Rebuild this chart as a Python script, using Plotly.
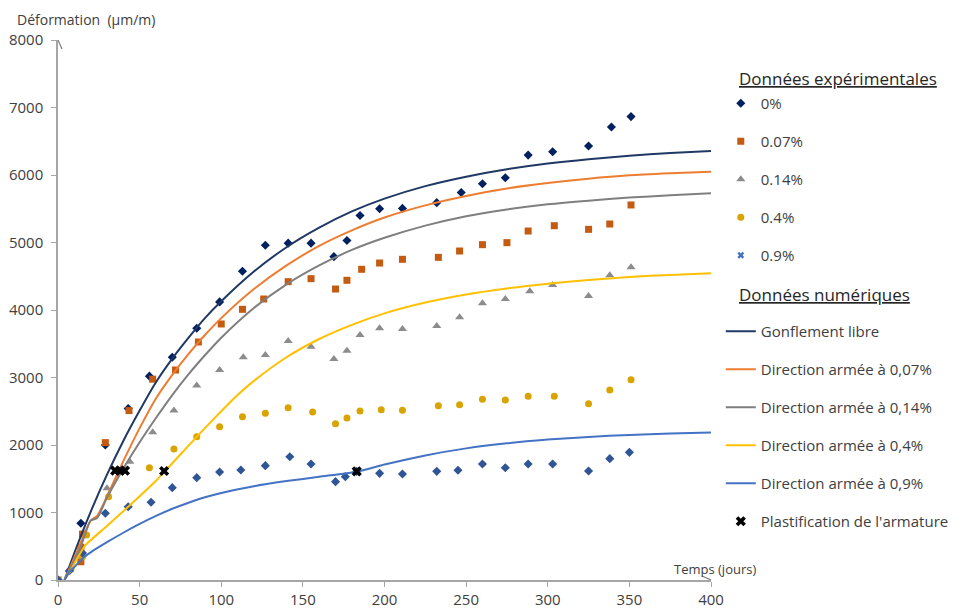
import plotly.graph_objects as go

# ---------------- Experimental data ----------------
x_0 = [0, 14, 29, 43, 56, 70, 85, 99, 113, 127, 141, 155, 169, 177, 185, 197, 211, 232, 247, 260, 274, 288, 303, 325, 339, 351]
y_0 = [0, 840, 2000, 2540, 3020, 3300, 3730, 4120, 4575, 4960, 4990, 4990, 4790, 5030, 5400, 5500, 5505, 5590, 5740, 5870, 5960, 6295, 6345, 6430, 6710, 6865]

x_007 = [0, 14, 14, 15, 29, 43.5, 58, 72, 86, 100, 113, 126, 141, 155, 170, 177, 186, 197, 211, 233, 246, 260, 275, 288, 304, 325, 338, 351]
y_007 = [0, 270, 485, 680, 2035, 2510, 2975, 3111, 3526, 3793, 4010, 4163, 4420, 4464, 4311, 4440, 4603, 4696, 4751, 4780, 4874, 4968, 4998, 5170, 5249, 5195, 5274, 5556]

x_014 = [0, 7, 13, 30, 44, 58, 71, 85, 99, 113.5, 127, 141, 155, 169, 177, 185, 197, 211, 232, 246, 260, 274, 289, 303, 325, 338, 351]
y_014 = [0, 150, 350, 1358, 1753, 2190, 2510, 2880, 3111, 3300, 3333, 3541, 3457, 3274, 3397, 3630, 3728, 3719, 3763, 3891, 4099, 4163, 4277, 4370, 4207, 4514, 4632]

x_04 = [0, 8, 15, 17.5, 31, 56, 71, 85, 99, 113, 127, 141, 156, 170, 177, 185, 198, 211, 233, 246, 260, 274, 288, 304, 325, 338, 351]
y_04 = [0, 163, 346, 667, 1234, 1664, 1941, 2123, 2271, 2420, 2469, 2553, 2489, 2316, 2400, 2504, 2523, 2514, 2583, 2598, 2677, 2667, 2721, 2721, 2612, 2815, 2968]

x_09 = [0, 7, 15, 29, 43, 57, 70, 85, 99, 112, 127, 142, 155, 170, 176, 183, 197, 211, 232, 245, 260, 274, 288, 303, 325, 338, 350]
y_09 = [0, 138, 400, 988, 1086, 1151, 1368, 1516, 1600, 1630, 1694, 1827, 1718, 1457, 1531, 1610, 1580, 1570, 1610, 1625, 1718, 1664, 1718, 1718, 1615, 1798, 1891]

# ---------------- Numerical curves ----------------
x_libre = [4, 10, 20, 30, 40, 50, 60, 70, 80, 90, 100, 120, 140, 160, 180, 200, 225, 250, 275, 300, 325, 350, 375, 400]
y_libre = [0, 400, 1010, 1560, 2060, 2510, 2930, 3280, 3590, 3880, 4130, 4570, 4930, 5220, 5460, 5650, 5835, 5975, 6085, 6170, 6235, 6285, 6325, 6356]

x_n007 = [4, 10, 14, 20, 24, 30, 40, 50, 60, 70, 80, 90, 100, 120, 140, 160, 180, 200, 225, 250, 275, 300, 325, 350, 375, 400]
y_n007 = [0, 330, 560, 880, 950, 1240, 1760, 2250, 2690, 3040, 3350, 3630, 3880, 4310, 4660, 4950, 5180, 5370, 5550, 5690, 5800, 5880, 5945, 5995, 6025, 6050]

x_n014 = [4, 10, 14, 20, 24, 30, 40, 50, 60, 70, 80, 90, 100, 120, 140, 160, 180, 200, 225, 250, 275, 300, 325, 350, 375, 400]
y_n014 = [0, 290, 500, 880, 920, 1220, 1650, 2040, 2400, 2740, 3050, 3330, 3590, 4030, 4380, 4660, 4890, 5070, 5250, 5390, 5490, 5565, 5620, 5665, 5700, 5728]

x_n04 = [4, 8, 12, 17, 20, 30, 40, 50, 60, 65, 70, 80, 90, 100, 110, 120, 140, 160, 180, 200, 225, 250, 275, 300, 325, 350, 375, 400]
y_n04 = [0, 150, 330, 520, 590, 800, 1020, 1240, 1470, 1600, 1730, 1990, 2250, 2500, 2740, 2950, 3300, 3570, 3780, 3950, 4110, 4230, 4320, 4390, 4445, 4490, 4520, 4545]

x_n09 = [4, 7, 10, 15, 20, 30, 40, 50, 60, 70, 80, 90, 100, 120, 140, 160, 183, 200, 225, 250, 275, 300, 325, 350, 375, 400]
y_n09 = [0, 120, 190, 320, 410, 560, 700, 830, 950, 1055, 1145, 1225, 1290, 1390, 1465, 1530, 1605, 1710, 1845, 1950, 2025, 2080, 2120, 2150, 2170, 2185]

x_plast = [35, 38, 41, 65, 183]
y_plast = [1620, 1620, 1620, 1615, 1610]

x_ticks = [0, 50, 100, 150, 200, 250, 300, 350, 400]
y_ticks = [0, 1000, 2000, 3000, 4000, 5000, 6000, 7000, 8000]

FONT = "Open Sans"
TXT = "#404040"

fig = go.Figure()

def exp_trace(x, y, name, symbol, color, size, group, showlegend=True):
    return go.Scatter(x=x, y=y, mode="markers", name=name, legendgroup=group,
                      marker=dict(symbol=symbol, color=color, size=size, line=dict(width=0)),
                      showlegend=showlegend)

fig.add_trace(exp_trace(x_0, y_0, "0%", "diamond", "#002060", 7, "g1"))
fig.add_trace(exp_trace(x_007, y_007, "0.07%", "square", "#C55A11", 7, "g2"))
fig.add_trace(exp_trace(x_014, y_014, "0.14%", "triangle-up", "#8C8C8C", 8, "g3"))
fig.add_trace(exp_trace(x_04, y_04, "0.4%", "circle", "#D9A300", 7, "g4"))
fig.add_trace(exp_trace(x_09, y_09, "0.9%", "diamond", "#2F5597", 7, "g5", showlegend=False))
fig.add_trace(go.Scatter(x=[None], y=[None], mode="markers", name="0.9%", legendgroup="g5",
                         marker=dict(symbol="x", color="#4472C4", size=6, line=dict(width=0))))
# blank legend slot reserved for the "Données numériques" heading
fig.add_trace(go.Scatter(x=[None], y=[None], mode="markers", name=" ", legendgroup="gh",
                         marker=dict(color="rgba(0,0,0,0)", size=1), hoverinfo="skip"))

def num_trace(x, y, name, color, group):
    return go.Scatter(x=x, y=y, mode="lines", name=name, legendgroup=group,
                      line=dict(color=color, width=2, shape="spline", smoothing=0.6))

fig.add_trace(num_trace(x_libre, y_libre, "Gonflement libre", "#1F3864", "g6"))
fig.add_trace(num_trace(x_n007, y_n007, "Direction armée à 0,07%", "#ED7D31", "g7"))
fig.add_trace(num_trace(x_n014, y_n014, "Direction armée à 0,14%", "#7F7F7F", "g8"))
fig.add_trace(num_trace(x_n04, y_n04, "Direction armée à 0,4%", "#FFC000", "g9"))
fig.add_trace(num_trace(x_n09, y_n09, "Direction armée à 0,9%", "#4472C4", "g10"))

fig.add_trace(go.Scatter(x=x_plast, y=y_plast, mode="markers", name="Plastification de l'armature",
                         legendgroup="g11",
                         marker=dict(symbol="x", color="black", size=9, line=dict(width=0))))

axis_common = dict(showgrid=False, zeroline=False, showline=True, linecolor="#A6A6A6", linewidth=1.5,
                   ticks="outside", ticklen=5, tickcolor="#A6A6A6", automargin=False,
                   tickfont=dict(family=FONT, size=15, color=TXT))

fig.update_xaxes(range=[0, 400], tickvals=x_ticks, ticktext=[str(v) for v in x_ticks], **axis_common)
fig.update_yaxes(range=[0, 8000], tickvals=y_ticks, ticktext=[str(v) for v in y_ticks],
                 ticklabelstandoff=5, **axis_common)

# arrowheads on axes
fig.add_shape(type="path", xref="x", yref="y", xsizemode="pixel", ysizemode="pixel",
              xanchor=0, yanchor=8000, path="M-4,-9 L0,0 L4,-9",
              line=dict(color="#7F7F7F", width=1.2))
fig.add_shape(type="path", xref="x", yref="y", xsizemode="pixel", ysizemode="pixel",
              xanchor=400, yanchor=0, path="M-9,4 L0,0 L-9,-4",
              line=dict(color="#7F7F7F", width=1.2))

fig.add_annotation(text="Déformation  (µm/m)", xref="paper", yref="paper", x=-0.066, y=1.0,
                   yshift=21, xanchor="left", yanchor="middle", showarrow=False,
                   font=dict(family=FONT, size=14, color=TXT))
fig.add_annotation(text="Temps (jours)", xref="paper", yref="paper", x=1.072, y=0.0,
                   yshift=11, xanchor="right", yanchor="middle", showarrow=False,
                   font=dict(family=FONT, size=13, color=TXT))

# legend section headings
fig.add_annotation(text="<u>Données expérimentales</u>", xref="paper", yref="paper", x=1.04, y=0.9296,
                   xanchor="left", yanchor="middle", showarrow=False,
                   font=dict(family=FONT, size=17, color="#262626"))
fig.add_annotation(text="<u>Données numériques</u>", xref="paper", yref="paper", x=1.04, y=0.5296,
                   xanchor="left", yanchor="middle", showarrow=False,
                   font=dict(family=FONT, size=17, color="#262626"))

# the page body adds an 8px offset, so the figure is 8px smaller and margins shifted
fig.update_layout(
    width=970, height=602,
    margin=dict(l=50, r=267, t=32, b=30),
    plot_bgcolor="white", paper_bgcolor="white",
    font=dict(family=FONT, size=14, color=TXT),
    legend=dict(x=1.015, y=0.913, xanchor="left", yanchor="top",
                traceorder="grouped", tracegroupgap=15.5,
                font=dict(family=FONT, size=15, color=TXT),
                bgcolor="rgba(0,0,0,0)"),
)

fig.write_html("out.html")
